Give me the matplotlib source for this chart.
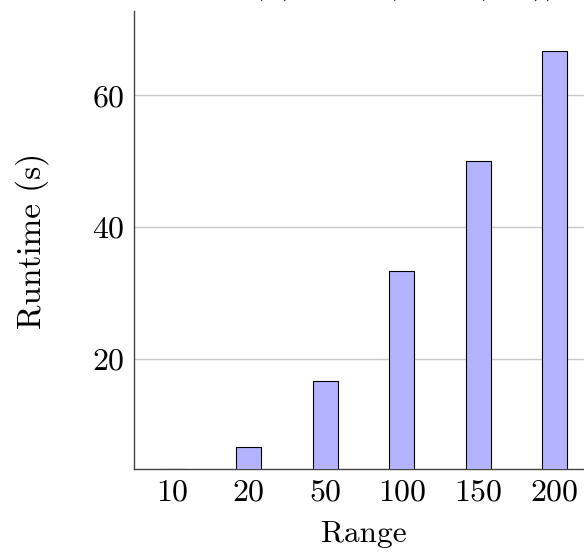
# Bar chart of runtime against range, pgfplots look.
import matplotlib
matplotlib.use("Agg")
import numpy as np
import matplotlib.pyplot as plt

plt.rcParams["font.family"] = "cmr10"
plt.rcParams["mathtext.fontset"] = "cm"
plt.rcParams["axes.formatter.use_mathtext"] = True

ranges = ["10", "20", "50", "100", "150", "200"]
runtime = [3.33, 6.67, 16.67, 33.33, 50.0, 66.67]
yticks = [20, 40, 60]

fs = 22.5

fig = plt.figure(figsize=(5.84, 5.57), dpi=100)
# axes runs past the right edge, the reference is cropped there
ax = fig.add_axes([134 / 584, 88 / 557, 459 / 584, 458 / 557])

x = np.arange(len(ranges))
ax.bar(x, runtime, width=0.33, color="#b3b3ff", edgecolor="black", linewidth=0.8, zorder=3)

ax.set_xlim(-0.5, len(ranges) - 0.5)
ax.set_ylim(runtime[0], 72.8)
ax.set_xticks(x)
ax.set_xticklabels(ranges)
ax.set_yticks(yticks)
ax.yaxis.grid(True, color="#c8c8c8", linewidth=1.0, zorder=0)
ax.tick_params(length=0, labelsize=23)
ax.tick_params(axis="x", pad=7)
ax.tick_params(axis="y", pad=7)

for side in ["top", "right"]:
    ax.spines[side].set_visible(False)
for side in ["left", "bottom"]:
    ax.spines[side].set_color("#444444")
    ax.spines[side].set_linewidth(1.0)

ax.set_xlabel("Range", fontsize=fs, labelpad=10)
fig.text(32 / 584, 1 - 241 / 557, "Runtime (s)", fontsize=24, rotation=90,
         ha="center", va="center")

# title sits mostly above the crop, only descenders show
fig.text(556 / 584, 1 + 7 / 557, r"Runtime, $y_1(x) = \mathrm{sum}(\mathrm{count}(x,y))$",
         fontsize=fs, ha="right", va="baseline")

fig.savefig("out.png", dpi=100)
